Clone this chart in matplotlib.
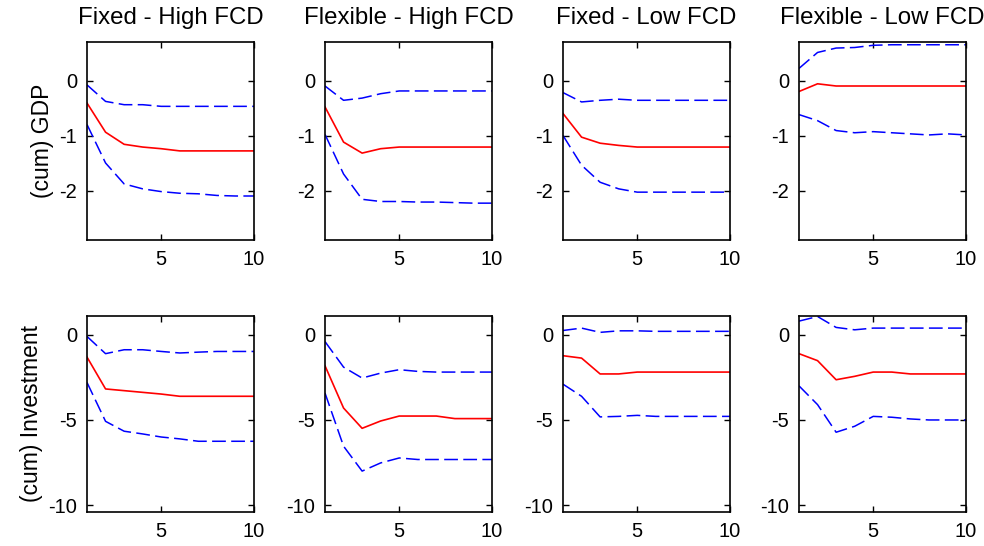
import matplotlib
matplotlib.use("Agg")
import matplotlib.pyplot as plt

plt.rcParams["font.family"] = ["Liberation Sans", "DejaVu Sans"]
plt.rcParams["axes.unicode_minus"] = False

horizon = list(range(1, 11))
titles = ["Fixed - High FCD", "Flexible - High FCD", "Fixed - Low FCD", "Flexible - Low FCD"]
row_labels = ["(cum) GDP", "(cum) Investment"]

# GDP responses: median, upper band, lower band
gdp_mid = [
    [-0.41, -0.94, -1.16, -1.21, -1.24, -1.28, -1.28, -1.28, -1.28, -1.28],
    [-0.48, -1.12, -1.32, -1.24, -1.21, -1.21, -1.21, -1.21, -1.21, -1.21],
    [-0.60, -1.03, -1.14, -1.18, -1.21, -1.21, -1.21, -1.21, -1.21, -1.21],
    [-0.20, -0.06, -0.10, -0.10, -0.10, -0.10, -0.10, -0.10, -0.10, -0.10],
]
gdp_hi = [
    [-0.08, -0.38, -0.44, -0.44, -0.47, -0.47, -0.47, -0.47, -0.47, -0.47],
    [-0.10, -0.36, -0.32, -0.24, -0.19, -0.19, -0.19, -0.19, -0.19, -0.19],
    [-0.22, -0.39, -0.36, -0.34, -0.36, -0.36, -0.36, -0.36, -0.36, -0.36],
    [0.22, 0.51, 0.59, 0.60, 0.64, 0.65, 0.65, 0.65, 0.65, 0.65],
]
gdp_lo = [
    [-0.80, -1.50, -1.88, -1.97, -2.02, -2.05, -2.06, -2.09, -2.10, -2.10],
    [-0.98, -1.70, -2.16, -2.20, -2.20, -2.21, -2.21, -2.22, -2.23, -2.23],
    [-1.00, -1.54, -1.85, -1.97, -2.03, -2.03, -2.03, -2.03, -2.03, -2.03],
    [-0.62, -0.73, -0.91, -0.95, -0.93, -0.95, -0.97, -0.99, -0.97, -0.99],
]

# Investment responses: median, upper band, lower band
inv_mid = [
    [-1.31, -3.18, -3.28, -3.38, -3.48, -3.61, -3.61, -3.61, -3.61, -3.61],
    [-1.82, -4.30, -5.49, -5.06, -4.77, -4.77, -4.77, -4.92, -4.92, -4.92],
    [-1.23, -1.37, -2.30, -2.30, -2.19, -2.19, -2.19, -2.19, -2.19, -2.19],
    [-1.11, -1.52, -2.64, -2.44, -2.19, -2.19, -2.30, -2.30, -2.30, -2.30],
]
inv_hi = [
    [-0.10, -1.11, -0.88, -0.88, -0.98, -1.07, -1.02, -0.98, -0.98, -0.98],
    [-0.40, -1.90, -2.54, -2.25, -2.05, -2.15, -2.19, -2.19, -2.19, -2.19],
    [0.25, 0.39, 0.14, 0.23, 0.23, 0.20, 0.20, 0.20, 0.20, 0.20],
    [0.80, 1.07, 0.43, 0.29, 0.39, 0.39, 0.39, 0.39, 0.39, 0.39],
]
inv_lo = [
    [-2.80, -5.08, -5.66, -5.82, -6.00, -6.11, -6.25, -6.25, -6.25, -6.25],
    [-3.42, -6.54, -8.00, -7.52, -7.23, -7.32, -7.32, -7.32, -7.32, -7.32],
    [-2.90, -3.61, -4.82, -4.79, -4.73, -4.79, -4.79, -4.79, -4.79, -4.79],
    [-3.00, -4.10, -5.72, -5.37, -4.79, -4.84, -4.94, -5.00, -5.00, -5.00],
]

rows = [(gdp_mid, gdp_hi, gdp_lo), (inv_mid, inv_hi, inv_lo)]
ylims = [(-2.9, 0.7), (-10.4, 1.1)]
yticks = [[-2, -1, 0], [-10, -5, 0]]

fig = plt.figure(figsize=(9.84, 5.46), dpi=100)
W, H = 984.0, 546.0
lefts = [87, 325, 563, 799]
row_box = [(42, 240), (316, 512)]  # top, bottom pixel

dash = (0, (9, 3.5))
for r, (mid, hi, lo) in enumerate(rows):
    top, bot = row_box[r]
    for c in range(4):
        ax = fig.add_axes([lefts[c] / W, 1 - bot / H, 167 / W, (bot - top) / H])
        ax.plot(horizon, hi[c], color="blue", lw=1.1, linestyle=dash)
        ax.plot(horizon, mid[c], color="red", lw=1.2)
        ax.plot(horizon, lo[c], color="blue", lw=1.1, linestyle=dash)
        ax.set_xlim(1, 10)
        ax.set_ylim(*ylims[r])
        ax.set_xticks([5, 10])
        ax.set_yticks(yticks[r])
        ax.tick_params(direction="in", top=True, right=True, length=4,
                       width=1.0, labelsize=14.5, pad=7)
        for s in ax.spines.values():
            s.set_linewidth(1.2)
        if r == 0:
            ax.set_title(titles[c], fontsize=17.3, pad=13)
        if c == 0:
            ax.set_ylabel(row_labels[r], fontsize=16.5)

fig.savefig("out.png", dpi=100)
